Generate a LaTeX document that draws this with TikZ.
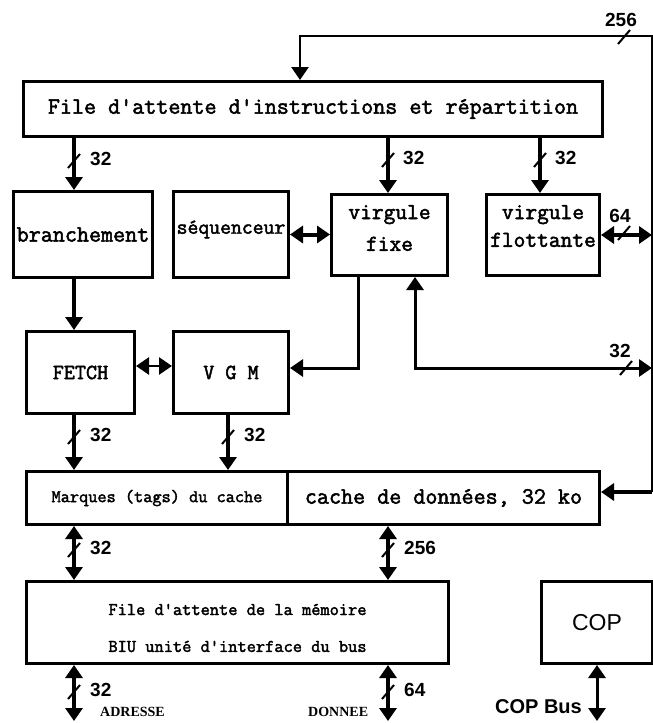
\documentclass[tikz,border=0pt]{standalone}
\usepackage{fontspec}
\setmainfont{Liberation Serif}
\newfontfamily\csans{Liberation Sans}
\newfontfamily\cmono{Latin Modern Mono}[FakeBold=2.2, Ligatures=TeXOff]
\usetikzlibrary{arrows.meta}

\begin{document}
\begin{tikzpicture}[x=1pt,y=-1pt,
  >={Triangle[width=17pt,length=13pt]},
  unit/.style={draw, line width=3pt, inner sep=0pt, anchor=north west},
  wire/.style={line width=4pt},
  thinwire/.style={line width=3pt},
  busline/.style={line width=2.6pt},
  tick/.style={line width=2pt},
  pics/busmark/.style={code={\draw[tick] (-6,7) -- (6,-7);}},
  bits/.style={font=\csans\bfseries\fontsize{19}{19}\selectfont, inner sep=0pt},
  lbl/.style={font=\cmono\bfseries\fontsize{#1}{#1}\selectfont, inner sep=0pt},
  sig/.style={font=\bfseries\fontsize{14}{14}\selectfont, inner sep=0pt},
]
\useasboundingbox (0,0) rectangle (653,723);

% ---- functional units ----
\node[unit, minimum width=579pt, minimum height=55pt, lbl=23.4] (file) at (22,80)
  {File d'attente d'instructions et répartition};
\node[unit, minimum width=139pt, minimum height=86pt, lbl=23.4] (bra) at (12,190) {branchement};
\node[unit, minimum width=115pt, minimum height=86pt] (seq) at (172,190) {};
\node[lbl=21.1] (seqT) at ([yshift=5pt]seq.center) {séquenceur};
\node[unit, minimum width=116pt, minimum height=81pt] (vfix) at (330,193) {};
\node[lbl=22.8, align=center] (vfixT) at ([yshift=7pt]vfix.center) {virgule\\[9pt]fixe};
\node[unit, minimum width=113pt, minimum height=81pt] (vflo) at (485,193) {};
\node[lbl=22.8, align=center] (vfloT) at ([yshift=9pt]vflo.center) {virgule\\[5pt]flottante};
\node[unit, minimum width=108pt, minimum height=82pt, lbl=21.5] (fetch) at (25,330) {FETCH};
\node[unit, minimum width=115pt, minimum height=82pt, lbl=21.5] (vgm) at (172,330) {V G M};
\node[unit, minimum width=261pt, minimum height=53pt, lbl=17.8] (tags) at (25,470) {Marques (tags) du cache};
\node[unit, minimum width=312pt, minimum height=53pt, lbl=23.4] (data) at (286,470) {cache de données, 32 ko};
\node[unit, minimum width=422pt, minimum height=82pt] (biu) at (25,580) {};
\node[lbl=17.9, align=center] (biuT) at ([yshift=-5.5pt]biu.center)
  {File d'attente de la mémoire\\[19pt]BIU unité d'interface du bus};
\node[unit, minimum width=111pt, minimum height=82pt, font=\csans\fontsize{23}{23}\selectfont] (cop) at (540,580) {COP};

% ---- reference columns and rows ----
\coordinate (xa) at (74,0);
\coordinate (xb) at (228,0);
\coordinate (xc) at (388,0);
\coordinate (xd) at (540,0);
\coordinate (xe) at (597,0);
\coordinate (xf) at (358,0);
\coordinate (xg) at (415,0);
\coordinate (busTop) at (652,36);
\coordinate (busIn) at (300,36);
\coordinate (busBot) at (652,492);
\coordinate (rowA) at (0,366);
\coordinate (rowB) at (0,368);
\coordinate (floor) at (0,721);

% ---- internal bus ----
\draw[busline,->] (busBot) -- (busTop) -- (busIn) -- (busIn |- file.north);

% ---- connections ----
\draw[wire,->] (xa |- file.south) -- (xa |- bra.north);
\draw[wire,->] (xc |- file.south) -- (xc |- vfix.north);
\draw[wire,->] (xd |- file.south) -- (xd |- vflo.north);
\draw[wire,<->] (seq.east) -- (seq.east -| vfix.west);
\draw[wire,<->] (vflo.east) -- (vflo.east -| busBot);
\draw[wire,->] (xa |- bra.south) -- (xa |- fetch.north);
\draw[busline,<->] (fetch.east |- rowA) -- (vgm.west |- rowA);
\draw[thinwire,->] (xf |- vfix.south) -- (xf |- rowB) -- (vgm.east |- rowB);
\draw[thinwire,<->] (xg |- vfix.south) -- (xg |- rowB) -- (busBot |- rowB);
\draw[wire,->] (xa |- fetch.south) -- (xa |- tags.north);
\draw[wire,->] (xb |- vgm.south) -- (xb |- tags.north);
\draw[wire,->] (busBot) -- (data.east |- busBot);
\draw[wire,<->] (xa |- tags.south) -- (xa |- biu.north);
\draw[wire,<->] (xc |- data.south) -- (xc |- biu.north);
\draw[wire,<->] (xa |- biu.south) -- (xa |- floor);
\draw[wire,<->] (xc |- biu.south) -- (xc |- floor);
\draw[thinwire,<->] (xe |- cop.south) -- (xe |- floor);

% ---- bus widths ----
\path (xa |- 0,161) pic{busmark};
\node[bits, anchor=west] (w1) at (90,159) {32};
\path (xc |- 0,160) pic{busmark};
\node[bits, anchor=west] (w2) at (403,158) {32};
\path (xd |- 0,160) pic{busmark};
\node[bits, anchor=west] (w3) at (555,158) {32};
\path (xa |- 0,437) pic{busmark};
\node[bits, anchor=west] (w4) at (90,435) {32};
\path (xb |- 0,437) pic{busmark};
\node[bits, anchor=west] (w5) at (244,435) {32};
\path (xa |- 0,550) pic{busmark};
\node[bits, anchor=west] (w6) at (90,548) {32};
\path (xc |- 0,550) pic{busmark};
\node[bits, anchor=west] (w7) at (404,548) {256};
\path (xa |- 0,692) pic{busmark};
\node[bits, anchor=west] (w8) at (90,690) {32};
\path (xc |- 0,692) pic{busmark};
\node[bits, anchor=west] (w9) at (404,690) {64};
\path (624,37) pic{busmark};
\node[bits] (w10) at (621,20) {256};
\path (624,233) pic{busmark};
\node[bits] (w11) at (620,216) {64};
\path (626,368) pic{busmark};
\node[bits] (w12) at (620,351) {32};

% ---- external signals ----
\node[sig, anchor=west] (adr) at (100,712) {ADRESSE};
\node[sig, anchor=west] (don) at (308,712) {DONNEE};
\node[font=\csans\bfseries\fontsize{20}{20}\selectfont, inner sep=0pt, anchor=east] (copbus) at (582,707) {COP Bus};
\end{tikzpicture}
\end{document}
